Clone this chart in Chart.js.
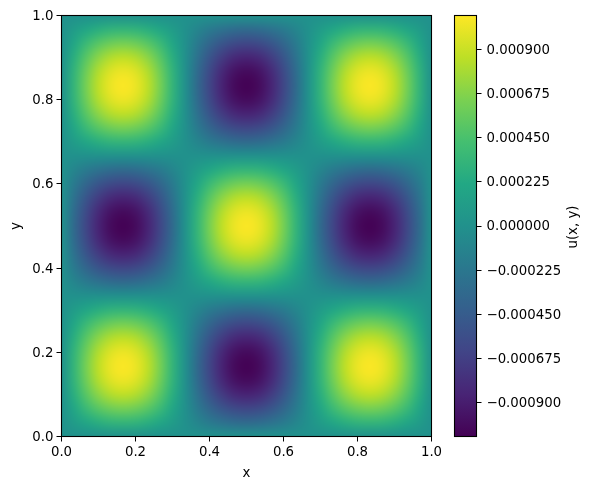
<!DOCTYPE html>
<html>
<head>
<meta charset="utf-8">
<style>
html,body{margin:0;padding:0;background:#fff;}
#wrap{position:relative;width:592px;height:489px;overflow:hidden;}
canvas{position:absolute;left:0;top:0;display:block;}
</style>
<script src="https://cdn.jsdelivr.net/npm/chart.js@4"></script>
</head>
<body>
<div id="wrap">
<canvas id="heat" width="592" height="489"></canvas>
<canvas id="bar" width="592" height="489"></canvas>
</div>
<script>
// Values in units of 1e-6
const xNodes=[0,0.0333,0.0667,0.1,0.1333,0.1667,0.2,0.2333,0.2667,0.3,0.3333,0.3667,0.4,0.4333,0.4667,0.5,0.5333,0.5667,0.6,0.6333,0.6667,0.7,0.7333,0.7667,0.8,0.8333,0.8667,0.9,0.9333,0.9667,1];
const yNodes=xNodes.slice();
const Z =[0,0,0,0,0,0,0,0,0,0,0,0,0,0,0,0,0,0,0,0,0,0,0,0,0,0,0,0,0,0,0];
const P1=[0,102,194,267,314,331,314,267,194,102,0,-102,-194,-267,-314,-331,-314,-267,-194,-102,0,102,194,267,314,331,314,267,194,102,0];
const P2=[0,194,370,509,598,629,598,509,370,194,0,-194,-370,-509,-598,-629,-598,-509,-370,-194,0,194,370,509,598,629,598,509,370,194,0];
const P3=[0,267,509,700,823,866,823,700,509,267,0,-267,-509,-700,-823,-866,-823,-700,-509,-267,0,267,509,700,823,866,823,700,509,267,0];
const P4=[0,314,598,823,968,1018,968,823,598,314,0,-314,-598,-823,-968,-1018,-968,-823,-598,-314,0,314,598,823,968,1018,968,823,598,314,0];
const P5=[0,331,629,866,1018,1070,1018,866,629,331,0,-331,-629,-866,-1018,-1070,-1018,-866,-629,-331,0,331,629,866,1018,1070,1018,866,629,331,0];
const N1=[0,-102,-194,-267,-314,-331,-314,-267,-194,-102,0,102,194,267,314,331,314,267,194,102,0,-102,-194,-267,-314,-331,-314,-267,-194,-102,0];
const N2=[0,-194,-370,-509,-598,-629,-598,-509,-370,-194,0,194,370,509,598,629,598,509,370,194,0,-194,-370,-509,-598,-629,-598,-509,-370,-194,0];
const N3=[0,-267,-509,-700,-823,-866,-823,-700,-509,-267,0,267,509,700,823,866,823,700,509,267,0,-267,-509,-700,-823,-866,-823,-700,-509,-267,0];
const N4=[0,-314,-598,-823,-968,-1018,-968,-823,-598,-314,0,314,598,823,968,1018,968,823,598,314,0,-314,-598,-823,-968,-1018,-968,-823,-598,-314,0];
const N5=[0,-331,-629,-866,-1018,-1070,-1018,-866,-629,-331,0,331,629,866,1018,1070,1018,866,629,331,0,-331,-629,-866,-1018,-1070,-1018,-866,-629,-331,0];
// rows from y = 0 upward
const gridRows=[Z,P1,P2,P3,P4,P5,P4,P3,P2,P1,Z,N1,N2,N3,N4,N5,N4,N3,N2,N1,Z,P1,P2,P3,P4,P5,P4,P3,P2,P1,Z];
const axisTicks=[0,0.2,0.4,0.6,0.8,1];
const barTicks=[-0.0009,-0.000675,-0.00045,-0.000225,0,0.000225,0.00045,0.000675,0.0009];
const barMin=-0.001073, barMax=0.001073;
const viridis=['#440154','#482475','#414487','#355f8d','#2a788e','#21918c','#22a884','#44bf70','#7ad151','#bddf26','#fde725'];

const FONT='"DejaVu Sans"';
const SIZE=13.3;
Chart.defaults.color='#000';
Chart.defaults.font.family=FONT;
Chart.defaults.font.size=SIZE;

function hex(c){return [1,3,5].map(k=>parseInt(c.substr(k,2),16));}
function colorAt(t){
  t=Math.max(0,Math.min(1,t));
  const p=t*(viridis.length-1), i=Math.min(viridis.length-2,Math.floor(p)), f=p-i;
  const a=hex(viridis[i]), b=hex(viridis[i+1]);
  return a.map((v,k)=>Math.round(v+(b[k]-v)*f));
}

const points=[];
gridRows.forEach((row,j)=>row.forEach((v,i)=>points.push({x:xNodes[i],y:yNodes[j],v:v})));

const frame={id:'frame',beforeDraw(c){
  // nudge the y tick labels down onto their tick marks
  c.scales.y.getLabelItems(c.chartArea).forEach(it=>{it.options={...it.options,translation:[it.options.translation[0],it.options.translation[1]+1]};});
},afterDraw(c){
  const a=c.chartArea,g=c.ctx;
  g.save();g.strokeStyle='#000';g.lineWidth=1.1;
  g.strokeRect(a.left,a.top,a.right-a.left,a.bottom-a.top);
  g.restore();
}};

const heatLayer={id:'heatLayer',beforeDatasetsDraw(c){
  const nx=xNodes.length, ny=yNodes.length;
  const off=document.createElement('canvas');off.width=nx;off.height=ny;
  const oc=off.getContext('2d'), img=oc.createImageData(nx,ny);
  c.data.datasets[0].data.forEach((p,n)=>{
    const i=n%nx, j=Math.floor(n/nx), o=((ny-1-j)*nx+i)*4;
    const rgb=colorAt((p.v*1e-6-barMin)/(barMax-barMin));
    img.data[o]=rgb[0];img.data[o+1]=rgb[1];img.data[o+2]=rgb[2];img.data[o+3]=255;
  });
  oc.putImageData(img,0,0);
  const sx=c.scales.x, sy=c.scales.y;
  const x0=sx.getPixelForValue(xNodes[0]), x1=sx.getPixelForValue(xNodes[nx-1]);
  const y0=sy.getPixelForValue(yNodes[ny-1]), y1=sy.getPixelForValue(yNodes[0]);
  const hx=(x1-x0)/(nx-1)/2, hy=(y1-y0)/(ny-1)/2;
  const a=c.chartArea,g=c.ctx;
  g.save();
  g.beginPath();g.rect(a.left,a.top,a.right-a.left,a.bottom-a.top);g.clip();
  g.imageSmoothingEnabled=true;g.imageSmoothingQuality='high';
  g.drawImage(off,x0-hx,y0-hy,x1-x0+2*hx,y1-y0+2*hy);
  g.restore();
}};

new Chart(document.getElementById('heat'),{
  type:'scatter',
  data:{datasets:[{label:'u(x, y)',data:points,pointRadius:0,pointHoverRadius:0}]},
  options:{
    responsive:false,animation:false,events:[],
    layout:{padding:{left:0,top:15.5,right:160.5,bottom:0}},
    plugins:{legend:{display:false},tooltip:{enabled:false}},
    scales:{
      x:{type:'linear',min:0,max:1,
        afterBuildTicks(s){s.ticks=axisTicks.map(v=>({value:v}));},
        afterFit(s){s.height=52.5;},
        grid:{drawOnChartArea:false,tickLength:5,tickColor:'#000',tickWidth:1},
        border:{display:false},
        ticks:{maxRotation:0,padding:3,callback:v=>v.toFixed(1)},
        title:{display:true,text:'x',padding:{top:0,bottom:7},font:{family:FONT,size:SIZE}}},
      y:{type:'linear',min:0,max:1,
        afterBuildTicks(s){s.ticks=axisTicks.map(v=>({value:v}));},
        afterFit(s){s.width=61.5;},
        grid:{drawOnChartArea:false,tickLength:5,tickColor:'#000',tickWidth:1},
        border:{display:false},
        ticks:{padding:3,callback:v=>v.toFixed(1)},
        title:{display:true,text:'y',padding:{top:9,bottom:0},font:{family:FONT,size:SIZE}}}
    }
  },
  plugins:[heatLayer,frame]
});

const barFill={id:'barFill',beforeDatasetsDraw(c){
  const a=c.chartArea,g=c.ctx,s=c.scales.y;
  const grad=g.createLinearGradient(0,s.getPixelForValue(barMin),0,s.getPixelForValue(barMax));
  viridis.forEach((col,i)=>grad.addColorStop(i/(viridis.length-1),col));
  g.save();g.fillStyle=grad;g.fillRect(a.left,a.top,a.right-a.left,a.bottom-a.top);g.restore();
},afterDraw(c){
  const g=c.ctx,a=c.chartArea;
  g.save();g.fillStyle='#000';g.font=SIZE+'px '+FONT;
  g.translate(574,(a.top+a.bottom)/2+1);g.rotate(-Math.PI/2);
  g.textAlign='center';g.textBaseline='middle';
  g.fillText('u(x, y)',0,0);g.restore();
}};

new Chart(document.getElementById('bar'),{
  type:'scatter',
  data:{datasets:[]},
  options:{
    responsive:false,animation:false,events:[],
    layout:{padding:{left:454.5,top:15.5,right:0,bottom:52.5}},
    plugins:{legend:{display:false},tooltip:{enabled:false}},
    scales:{
      x:{type:'linear',display:false,min:0,max:1},
      y:{type:'linear',position:'right',min:barMin,max:barMax,
        afterBuildTicks(s){s.ticks=barTicks.map(v=>({value:v}));},
        afterFit(s){s.width=115.5;},
        grid:{drawOnChartArea:false,tickLength:5,tickColor:'#000',tickWidth:1},
        border:{display:false},
        ticks:{padding:5,callback:v=>(v<0?'\u2212':'')+Math.abs(v).toFixed(6)}}
    }
  },
  plugins:[barFill,frame]
});
</script>
</body>
</html>
